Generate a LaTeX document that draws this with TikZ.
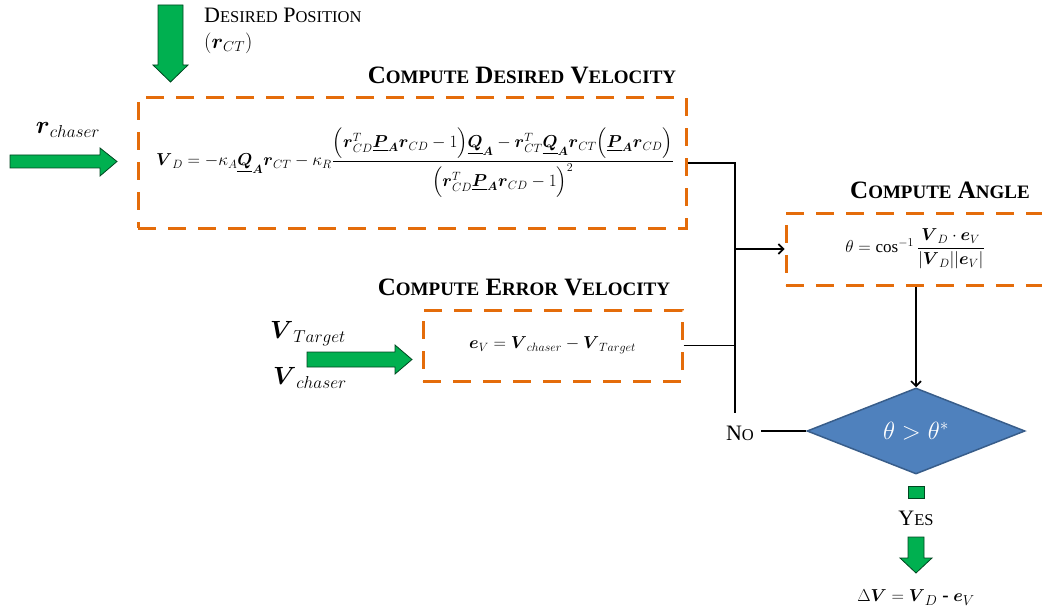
\documentclass[tikz,border=0pt]{standalone}
\usepackage{fontspec}
\usepackage{xcolor}
\usepackage{amsmath, amssymb}
\usepackage{tikz}
\usetikzlibrary{shapes.geometric, arrows.meta, positioning}
\setmainfont{Liberation Serif}

\definecolor{dashorange}{RGB}{228,108,10}
\definecolor{arrowgreen}{RGB}{0,176,80}
\definecolor{decblue}{RGB}{79,129,189}
\definecolor{decedge}{RGB}{56,93,138}
\DeclareMathSizes{17}{17}{12.5}{10}
\DeclareMathSizes{19}{19}{14}{10}
\DeclareMathSizes{24}{24}{17.5}{12}
\newcommand{\capsc}[2]{#1{\fontsize{19}{22}\selectfont #2}}
\newcommand{\capsl}[2]{#1{\fontsize{16.5}{19}\selectfont #2}}
\newcommand{\bv}[1]{\boldsymbol{#1}}
\newcommand{\ubv}[1]{\underline{\boldsymbol{#1}}_{\boldsymbol{A}}}

\begin{document}
\begin{tikzpicture}[
    x=1pt, y=-1pt,
    dbox/.style={rectangle, draw=dashorange, line width=3pt,
                 dash pattern=on 18pt off 12pt, align=center,
                 font=\fontsize{17}{20}\selectfont},
    head/.style={font=\fontsize{25}{28}\selectfont\bfseries},
    lbl/.style={font=\fontsize{22}{25}\selectfont, inner sep=0pt},
    garrow/.style={fill=arrowgreen, draw=black!60!arrowgreen, line width=0.8pt},
    decide/.style={diamond, fill=decblue, draw=decedge, line width=1.5pt,
                   minimum width=218pt, minimum height=86pt, inner sep=0pt,
                   text=white, font=\fontsize{27}{30}\selectfont},
    line/.style={draw=black, line width=1.6pt},
    arr/.style={-{Straight Barb[length=5pt,width=10pt]}, line width=1.6pt}
]
\useasboundingbox (0,0) rectangle (1042,615);
\clip (0,0) rectangle (1042,615);

% boxes
\node[dbox, minimum width=548pt, minimum height=130pt] (vd) at (412,163)
  {\hspace*{6pt}$\displaystyle \bv{V}_D = -\kappa_A\ubv{Q}\bv{r}_{CT} - \kappa_R
   \frac{\Bigl(\bv{r}^T_{CD}\ubv{P}\bv{r}_{CD}-1\Bigr)\ubv{Q}
         - \bv{r}^T_{CT}\ubv{Q}\bv{r}_{CT}\Bigl(\ubv{P}\bv{r}_{CD}\Bigr)}
        {\Bigl(\bv{r}^T_{CD}\ubv{P}\bv{r}_{CD}-1\Bigr)^2}$};
\node[dbox, minimum width=259pt, minimum height=71pt] (ev) at (552.5,345.5)
  {$\bv{e}_V = \bv{V}_{chaser} - \bv{V}_{Target}$};
\node[dbox, minimum width=288pt, minimum height=72pt] (ang) at (930,249)
  {\hspace*{-30pt}$\theta = \cos^{-1}\dfrac{\bv{V}_D\cdot\bv{e}_V}{|\bv{V}_D||\bv{e}_V|}$};
\node[decide] (test) at (916,431) {$\theta > \theta^*$};

% headings
\node[head] (vdhead)  at (522,75)  {\capsc{C}{OMPUTE} \capsc{D}{ESIRED} \capsc{V}{ELOCITY}};
\node[head] (evhead)  at (524,287) {\capsc{C}{OMPUTE} \capsc{E}{RROR} \capsc{V}{ELOCITY}};
\node[head] (anghead) at (940,190) {\capsc{C}{OMPUTE} \capsc{A}{NGLE}};

% inputs
\node[lbl, anchor=north west, align=left] (pos) at (204,8)
  {\capsl{D}{ESIRED} \capsl{P}{OSITION}\\[1pt]$(\bv{r}_{CT})$};
\node[lbl, font=\fontsize{24}{27}\selectfont] (rch) at (68,130) {$\bv{r}_{chaser}$};
\node[lbl, font=\fontsize{24}{27}\selectfont] (vtg) at (308,334) {$\bv{V}_{Target}$};
\node[lbl, font=\fontsize{24}{27}\selectfont] (vch) at (310,378) {$\bv{V}_{chaser}$};

\filldraw[garrow] (158,5) -- (183,5) -- (183,65) -- (188,65) -- (170.5,82)
  -- (153,65) -- (158,65) -- cycle;
\filldraw[garrow] (10,155) -- (100,155) -- (100,148) -- (117,161.5)
  -- (100,176) -- (100,168) -- (10,168) -- cycle;
\filldraw[garrow] (307,352) -- (395,352) -- (395,345) -- (412,359.5)
  -- (395,374) -- (395,367) -- (307,367) -- cycle;

% outputs
\node[lbl] (no)  at (740,433) {\capsl{N}{O}};
\node[lbl] (yes) at (916,518) {\capsl{Y}{ES}};
\node[lbl, font=\fontsize{19}{22}\selectfont] (dv) at (916,598)
  {$\Delta\bv{V} = \bv{V}_D$ \textbf{-} $\bv{e}_V$};
\filldraw[garrow] (908,486) rectangle (924,498);
\filldraw[garrow] (908,537) -- (924,537) -- (924,558) -- (932,558) -- (916,573)
  -- (900,558) -- (908,558) -- cycle;

% connectors
\coordinate (trunk) at (735,413);
\draw[line] (vd.east) -| (trunk);
\draw[line] (ev.east) -- (ev.east -| trunk);
\draw[arr] (ang.west -| trunk) -- (ang.west);
\draw[arr] (test.north |- ang.south) -- (test.north);
\draw[line] (test.west) -- ++(-45pt,0);
\end{tikzpicture}
\end{document}
